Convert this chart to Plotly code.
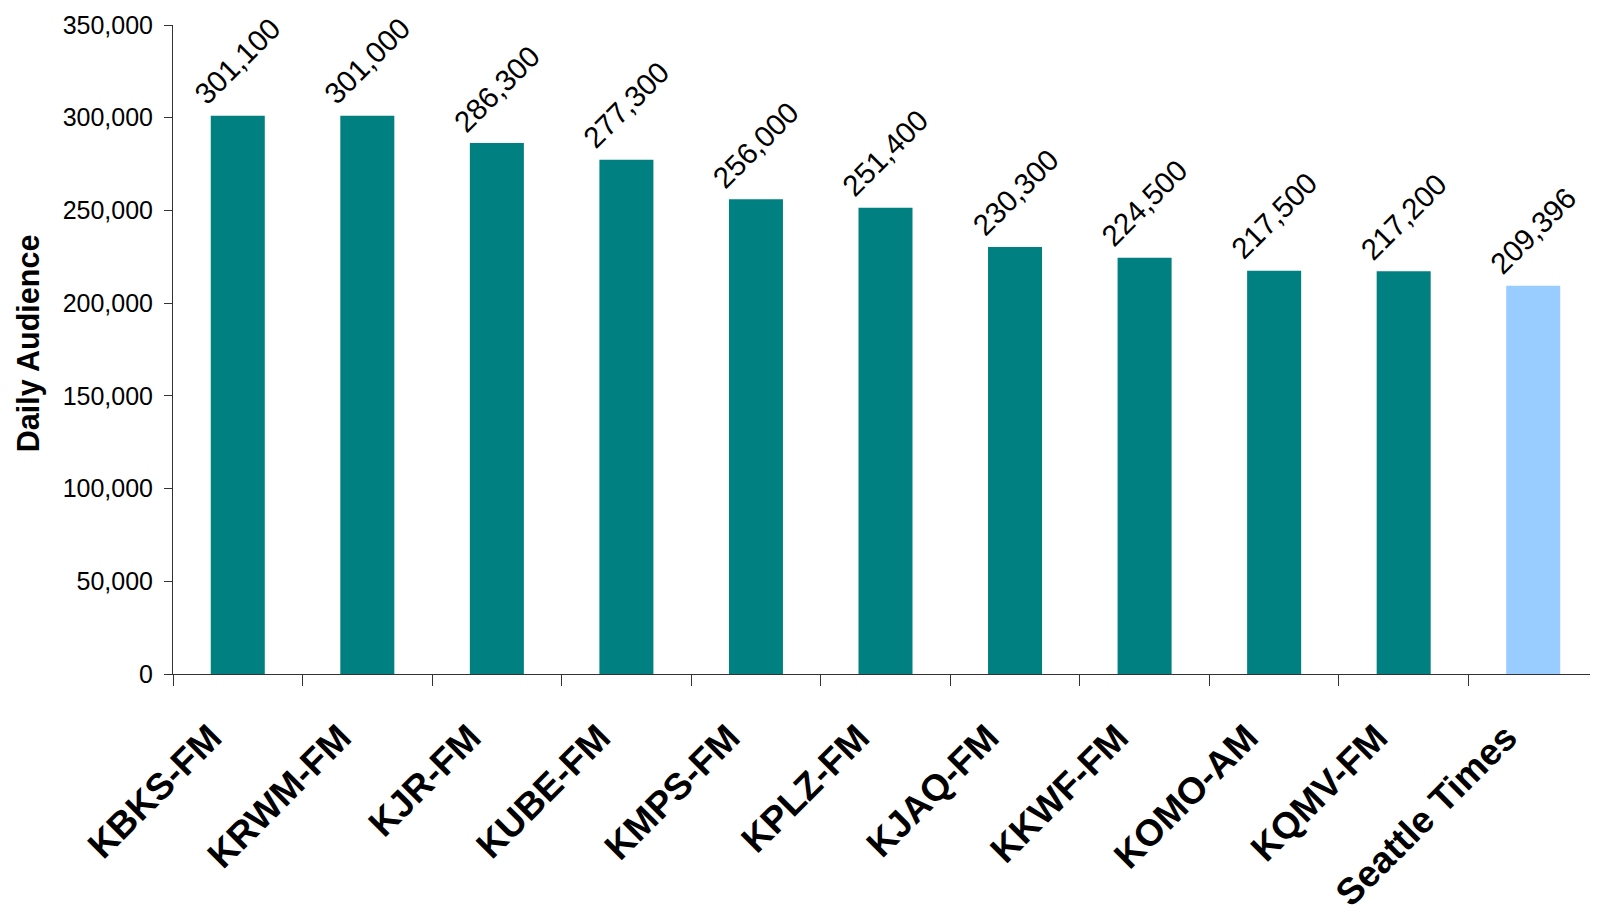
import plotly.graph_objects as go

stations = ["KBKS-FM", "KRWM-FM", "KJR-FM", "KUBE-FM", "KMPS-FM", "KPLZ-FM",
            "KJAQ-FM", "KKWF-FM", "KOMO-AM", "KQMV-FM", "Seattle Times"]
audience = [301100, 301000, 286300, 277300, 256000, 251400,
            230300, 224500, 217500, 217200, 209396]
bar_colors = ["#008080"] * 10 + ["#99CCFF"]
y_ticks = [0, 50000, 100000, 150000, 200000, 250000, 300000, 350000]

FONT = "Liberation Sans, Arial, sans-serif"

fig = go.Figure()
fig.add_trace(go.Bar(
    x=stations, y=audience, marker=dict(color=bar_colors, line=dict(width=0)),
    showlegend=False, hoverinfo="x+y",
))

for s, v in zip(stations, audience):
    fig.add_annotation(
        x=s, y=v, xref="x", yref="y", text=f"{v:,}", showarrow=False,
        textangle=-45, xanchor="center", yanchor="bottom", yshift=4,
        borderpad=0,
        font=dict(family=FONT, size=29.5, color="#000000"),
    )

fig.add_annotation(
    xref="paper", yref="paper", x=-0.1014, y=0.509, text="<b>Daily Audience</b>",
    showarrow=False, textangle=-90, xanchor="center", yanchor="middle",
    font=dict(family=FONT, size=30.5, color="#000000"),
)

# page body has an 8px default margin; compensate so the plot sits where intended
fig.update_layout(
    width=1598, height=911,
    margin=dict(l=165, r=8, t=17, b=245, autoexpand=False),
    paper_bgcolor="white", plot_bgcolor="white",
    bargap=0.583,
    font=dict(family=FONT, color="#000000"),
)
fig.update_xaxes(
    type="category", showline=True, linecolor="#333333", linewidth=1,
    ticks="outside", ticklen=11, tickcolor="#333333", tickson="boundaries",
    tickangle=-45, tickfont=dict(family=FONT, size=37, color="#000000", weight="bold"),
    showgrid=False, zeroline=False, automargin=False,
    ticklabelstandoff=26, ticklabelshift=-27,
)
fig.update_yaxes(
    range=[0, 350000], tickvals=y_ticks, ticktext=[f"{t:,}" for t in y_ticks],
    showline=True, linecolor="#333333", linewidth=1,
    ticks="outside", ticklen=8, tickcolor="#333333",
    tickfont=dict(family=FONT, size=25, color="#000000"),
    showgrid=False, zeroline=False, automargin=False, ticklabelstandoff=6,
)

fig.write_html("out.html")
